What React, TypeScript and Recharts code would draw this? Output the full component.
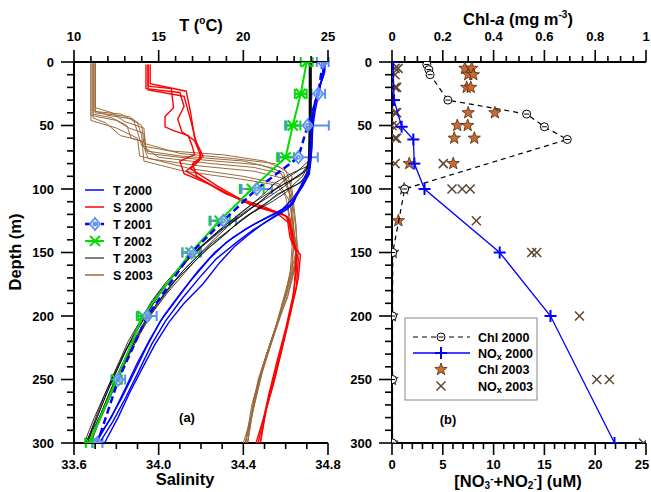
import React from 'react';
import { ScatterChart, Scatter, XAxis, YAxis, ErrorBar } from 'recharts';

type Pt = [number, number]; // [value, depth (m)]

// ---------- panel (a) : salinity 2003 ----------
const s2003a: Pt[] = [[33.69,1],[33.69,38],[33.76,42],[33.88,45],[33.90,55],[33.92,66],[34.05,70],[34.30,73],[34.50,78],[34.60,85],[34.63,100],[34.65,130],[34.65,150],[34.60,180],[34.55,210],[34.49,240],[34.44,270],[34.41,300]];
const s2003b: Pt[] = [[33.68,1],[33.68,42],[33.80,46],[33.86,52],[33.93,56],[33.94,70],[34.10,74],[34.40,78],[34.55,84],[34.62,95],[34.64,120],[34.66,150],[34.62,175],[34.56,205],[34.50,235],[34.45,265],[34.42,300]];
const s2003c: Pt[] = [[33.70,1],[33.70,36],[33.78,40],[33.84,47],[33.93,52],[33.94,68],[34.00,75],[34.25,80],[34.45,83],[34.58,88],[34.62,105],[34.64,140],[34.63,165],[34.58,195],[34.52,225],[34.47,255],[34.43,285],[34.41,300]];
const s2003d: Pt[] = [[33.69,1],[33.69,44],[33.75,48],[33.82,58],[33.92,62],[33.95,76],[34.20,82],[34.45,86],[34.60,92],[34.63,110],[34.64,135],[34.65,155],[34.61,185],[34.54,215],[34.48,248],[34.44,278],[34.40,300]];
const s2003e: Pt[] = [[33.70,1],[33.70,40],[33.86,43],[33.92,50],[33.93,64],[34.10,72],[34.35,76],[34.55,80],[34.63,90],[34.61,115],[34.63,145],[34.62,170],[34.57,200],[34.51,230],[34.46,260],[34.43,290],[34.42,300]];
const s2003f: Pt[] = [[33.68,1],[33.68,46],[33.80,52],[33.90,60],[33.91,74],[34.15,84],[34.40,90],[34.57,96],[34.62,110],[34.65,145],[34.64,160],[34.59,190],[34.53,220],[34.47,250],[34.44,275],[34.41,300]];
const s2003g: Pt[] = [[33.69,1],[33.69,41],[33.78,44],[33.85,50],[33.87,60],[33.93,63],[33.95,72],[34.20,77],[34.48,81],[34.59,87],[34.62,104],[34.63,128],[34.66,152],[34.62,178],[34.56,208],[34.50,238],[34.45,268],[34.42,300]];
const s2003h: Pt[] = [[33.70,1],[33.70,39],[33.82,41],[33.90,48],[33.92,58],[33.93,78],[34.12,86],[34.38,92],[34.56,97],[34.60,106],[34.64,138],[34.63,158],[34.60,182],[34.55,212],[34.49,244],[34.45,272],[34.41,300]];

// ---------- panel (a) : salinity 2000 ----------
const s2000a: Pt[] = [[33.95,2],[33.95,19],[34.06,21],[34.07,36],[34.03,43],[34.03,51],[34.07,54],[34.14,58],[34.16,67],[34.17,73],[34.10,78],[34.12,88],[34.25,97],[34.40,110],[34.55,118],[34.61,126],[34.62,138],[34.65,150],[34.64,180],[34.60,210],[34.56,235],[34.52,262],[34.49,285],[34.47,300]];
const s2000b: Pt[] = [[33.96,2],[33.96,17],[34.13,23],[34.15,39],[34.17,60],[34.20,71],[34.19,78],[34.15,84],[34.28,98],[34.43,112],[34.58,119],[34.62,124],[34.63,140],[34.66,155],[34.65,178],[34.61,205],[34.57,232],[34.53,258],[34.50,280],[34.48,300]];
const s2000c: Pt[] = [[33.94,2],[33.94,21],[34.10,24],[34.12,35],[34.09,45],[34.11,55],[34.17,62],[34.19,70],[34.20,76],[34.13,86],[34.30,102],[34.48,115],[34.60,121],[34.63,132],[34.64,145],[34.67,152],[34.66,170],[34.62,200],[34.58,228],[34.54,255],[34.50,278],[34.46,300]];
const s2000d: Pt[] = [[33.95,2],[33.95,22],[34.02,24],[34.12,27],[34.15,45],[34.18,65],[34.21,74],[34.16,80],[34.18,90],[34.32,104],[34.50,114],[34.61,122],[34.62,130],[34.65,148],[34.65,165],[34.63,190],[34.59,220],[34.55,248],[34.51,272],[34.48,300]];

// ---------- panel (a) : temperature 2003 ----------
const t2003a: Pt[] = [[23.95,0],[23.95,40],[23.9,75],[23.7,85],[23.0,92],[22.2,100],[21.3,108],[20.3,116],[19.4,125],[18.5,135],[17.6,145],[16.8,155],[15.9,168],[15.1,180],[14.3,195],[13.7,210],[13.0,228],[12.4,245],[11.8,262],[11.2,280],[10.6,300]];
const t2003b: Pt[] = [[23.9,0],[23.9,50],[23.85,78],[23.2,86],[22.5,92],[21.9,100],[21.0,110],[20.0,120],[19.2,128],[18.4,138],[17.5,150],[16.6,162],[15.7,176],[14.9,190],[14.2,205],[13.5,222],[12.9,238],[12.3,256],[11.7,274],[11.1,290],[10.8,300]];
const t2003c: Pt[] = [[24.0,0],[24.0,60],[23.9,80],[23.5,90],[23.0,96],[22.5,103],[21.7,110],[20.6,118],[19.7,126],[18.9,136],[18.0,146],[17.2,156],[16.4,168],[15.5,182],[14.6,198],[13.9,214],[13.2,232],[12.6,250],[12.0,268],[11.4,286],[11.0,300]];
const t2003d: Pt[] = [[23.95,0],[23.95,70],[23.8,84],[23.3,90],[22.4,96],[21.5,104],[20.8,112],[19.8,122],[18.7,132],[17.8,142],[16.9,152],[16.1,164],[15.3,178],[14.5,194],[13.8,210],[13.1,226],[12.5,244],[11.9,262],[11.3,282],[10.7,300]];
const t2003e: Pt[] = [[23.9,0],[23.9,65],[23.8,82],[22.8,88],[21.9,95],[21.2,104],[20.5,112],[19.6,122],[18.6,132],[17.7,143],[16.7,156],[15.8,170],[15.0,184],[14.2,200],[13.5,216],[12.9,232],[12.2,252],[11.6,272],[11.0,292],[10.8,300]];
const t2003f: Pt[] = [[24.0,0],[24.0,55],[23.9,78],[23.7,88],[23.4,95],[22.6,100],[21.9,106],[21.0,114],[20.1,122],[19.2,132],[18.2,142],[17.3,153],[16.4,165],[15.6,178],[14.8,192],[14.0,208],[13.3,225],[12.7,242],[12.1,260],[11.5,280],[10.9,300]];
const t2003g: Pt[] = [[23.9,0],[23.9,45],[23.85,80],[23.5,87],[22.7,94],[21.6,102],[20.7,110],[19.9,118],[19.0,128],[18.1,138],[17.1,150],[16.2,162],[15.4,174],[14.6,188],[13.9,204],[13.2,220],[12.6,238],[12.0,256],[11.4,276],[10.9,294],[10.7,300]];
const t2003h: Pt[] = [[24.0,0],[24.0,50],[23.95,82],[23.8,90],[23.1,97],[22.0,104],[21.2,113],[20.4,120],[19.5,129],[18.6,139],[17.7,149],[16.9,160],[16.0,172],[15.2,186],[14.4,201],[13.7,217],[13.1,234],[12.4,252],[11.8,270],[11.2,290],[10.9,300]];

// ---------- panel (a) : temperature 2000 ----------
const t2000a: Pt[] = [[24.85,0],[24.8,8],[24.6,16],[24.45,22],[24.2,32],[24.1,45],[24.05,60],[24.0,75],[23.9,88],[23.5,98],[23.1,106],[22.9,112],[22.1,119],[21.2,127],[20.4,135],[19.5,145],[18.6,158],[17.6,175],[16.5,190],[15.6,205],[14.8,222],[14.0,242],[13.3,260],[12.6,280],[11.8,300]];
const t2000b: Pt[] = [[24.7,0],[24.75,10],[24.45,20],[24.25,32],[24.05,50],[23.95,70],[23.85,85],[23.3,100],[23.0,110],[22.6,116],[21.6,124],[20.6,132],[19.6,142],[18.4,155],[17.4,170],[16.4,186],[15.4,204],[14.6,222],[13.8,244],[13.1,263],[12.3,283],[11.5,300]];
const t2000c: Pt[] = [[24.8,0],[24.7,12],[24.35,25],[24.1,40],[24.0,55],[23.95,72],[23.8,90],[23.2,102],[22.9,108],[22.3,116],[21.3,123],[20.2,131],[19.0,142],[18.0,155],[16.9,172],[16.0,188],[15.1,204],[14.3,224],[13.5,246],[12.8,265],[12.0,284],[11.3,300]];
const t2000d: Pt[] = [[24.75,0],[24.65,12],[24.5,22],[24.25,38],[24.1,52],[24.05,68],[23.95,82],[23.6,95],[23.2,104],[22.8,112],[21.8,120],[20.6,128],[19.4,138],[18.3,150],[17.3,165],[16.3,182],[15.3,200],[14.5,218],[13.7,238],[13.0,258],[12.2,280],[11.2,300]];

// ---------- panel (a) : mean profiles 2001 / 2002 with spread ----------
const meanDepth = [0, 25, 50, 75, 100, 125, 150, 200, 250, 300];
const t2001Mean = [24.69, 24.43, 23.80, 23.25, 20.79, 18.82, 16.95, 14.33, 12.62, 11.38];
const t2001Err = [0.35, 0.4, 1.25, 1.15, 0.9, 0.75, 0.55, 0.55, 0.4, 0.3];
const t2002Mean = [23.74, 23.39, 22.92, 22.5, 20.5, 18.6, 16.9, 14.06, 12.52, 10.9];
const t2002Err = [0.35, 0.35, 0.45, 0.5, 0.7, 0.6, 0.5, 0.35, 0.3, 0.2];

// ---------- panel (b) ----------
const chl2000Depth = [2, 6, 10, 30, 41, 51, 61, 100, 150, 200, 250, 300];
const chl2000 = [0.137, 0.145, 0.15, 0.22, 0.53, 0.60, 0.69, 0.05, 0.003, 0.002, 0.002, 0.002];
const nox2000Depth = [0, 30, 51, 61, 80, 100, 150, 200, 300];
const nox2000 = [0.1, 0.2, 0.95, 2.1, 2.2, 3.2, 10.6, 15.6, 21.9];
const chl2003: Pt[] = [[0.287,5],[0.314,5],[0.30,10],[0.32,10],[0.294,20],[0.31,20],[0.30,40],[0.405,40],[0.257,50],[0.298,50],[0.245,60],[0.324,60],[0.068,80],[0.241,80],[0.048,100],[0.025,125],[0.003,150],[0.0,200],[0.0,250],[0.0,300]];
const nox2003: Pt[] = [[0.3,5],[0.6,5],[0.3,10],[0.3,20],[0.45,20],[0.3,40],[0.45,40],[0.0,50],[0.45,50],[0.3,60],[0.45,60],[0.3,80],[5.05,80],[5.9,100],[6.9,100],[7.7,100],[8.3,125],[13.75,150],[14.25,150],[18.45,200],[20.15,250],[21.4,250],[24.75,300]];

// ---------- ticks ----------
const tTicks = [10, 11, 12, 13, 14, 15, 16, 17, 18, 19, 20, 21, 22, 23, 24, 25];
const tLabels = [10, 15, 20, 25];
const sTicks = [33.6, 33.7, 33.8, 33.9, 34.0, 34.1, 34.2, 34.3, 34.4, 34.5, 34.6, 34.7, 34.8];
const sLabels = [33.6, 34.0, 34.4, 34.8];
const depthTicks = Array.from({ length: 31 }, (_, i) => i * 10);
const depthLabels = [0, 50, 100, 150, 200, 250, 300];
const chlTicks = Array.from({ length: 21 }, (_, i) => Math.round(i * 5) / 100);
const chlLabels = [0, 0.2, 0.4, 0.6, 0.8, 1];
const noxTicks = Array.from({ length: 26 }, (_, i) => i);
const noxLabels = [0, 5, 10, 15, 20, 25];

const FONT = '"Liberation Sans", Arial, Helvetica, sans-serif';
const BLUE = '#0000ff';
const RED = '#ff0000';
const BROWN = '#9a6a3c';
const GREEN = '#00dd00';
const LBLUE = '#5b8ff0';
const STAR = '#cf6a2c';
const XBROWN = '#5e4632';
const AXIS = { stroke: '#000', strokeWidth: 2 };

const prof = (pts: Pt[]) => pts.map(([x, d]) => ({ x, d }));
const zipped = (xs: number[], ds: number[], es?: number[]) =>
  xs.map((x, i) => ({ x, d: ds[i], e: es ? es[i] : 0 }));

const isIn = (arr: number[], v: number) => arr.some((m) => Math.abs(m - v) < 1e-6);

// custom ticks: long labelled major ticks, short minor ticks; maxX keeps the last label inside the svg
function axisTick(orient: 'top' | 'bottom' | 'left', labels: number[], fmt: (v: number) => string, maxX = 9999) {
  return (props: any) => {
    const { x, y, payload } = props;
    const v = Number(payload.value);
    const major = isIn(labels, v);
    const txt = { fontFamily: FONT, fontSize: 13, fontWeight: 700, fill: '#000' };
    if (orient === 'left') {
      const len = major ? 13 : 7;
      return (
        <g>
          <line x1={x - len} y1={y} x2={x} y2={y} stroke="#000" strokeWidth={1.6} />
          {major && <text x={x - 20} y={y + 4.7} textAnchor="end" {...txt}>{fmt(v)}</text>}
        </g>
      );
    }
    const len = major ? 12 : 6;
    const dir = orient === 'top' ? -1 : 1;
    return (
      <g>
        <line x1={x} y1={y} x2={x} y2={y + dir * len} stroke="#000" strokeWidth={1.6} />
        {major && (
          <text x={Math.min(x, maxX)} y={orient === 'top' ? y - 21.3 : y + 26} textAnchor="middle" {...txt}>{fmt(v)}</text>
        )}
      </g>
    );
  };
}

// ---------- markers ----------
const noDot = () => <g />;
const diamondMark = (cx: number, cy: number) => (
  <g>
    <polygon points={`${cx},${cy - 6} ${cx + 5},${cy} ${cx},${cy + 6} ${cx - 5},${cy}`} fill="#fff" fillOpacity={0.5} stroke={LBLUE} strokeWidth={1.8} />
    <circle cx={cx} cy={cy} r={1.8} fill="none" stroke={LBLUE} strokeWidth={1.2} />
  </g>
);
const asterMark = (cx: number, cy: number) => (
  <g stroke={GREEN} strokeWidth={2}>
    <line x1={cx - 5} y1={cy - 5} x2={cx + 5} y2={cy + 5} />
    <line x1={cx - 5} y1={cy + 5} x2={cx + 5} y2={cy - 5} />
    <line x1={cx - 6} y1={cy} x2={cx + 6} y2={cy} />
  </g>
);
const starPath = (cx: number, cy: number) => {
  let d = '';
  for (let i = 0; i < 10; i++) {
    const r = i % 2 === 0 ? 6.5 : 2.7;
    const a = -Math.PI / 2 + (i * Math.PI) / 5;
    d += (i ? 'L' : 'M') + (cx + r * Math.cos(a)).toFixed(2) + ',' + (cy + r * Math.sin(a)).toFixed(2);
  }
  return d + 'Z';
};
const starMark = (cx: number, cy: number) => <path d={starPath(cx, cy)} fill={STAR} stroke="#4a2c16" strokeWidth={0.8} />;
const xMark = (cx: number, cy: number) => (
  <g stroke={XBROWN} strokeWidth={1.5}>
    <line x1={cx - 4.5} y1={cy - 4.5} x2={cx + 4.5} y2={cy + 4.5} />
    <line x1={cx - 4.5} y1={cy + 4.5} x2={cx + 4.5} y2={cy - 4.5} />
  </g>
);
const plusMark = (cx: number, cy: number) => (
  <g stroke={BLUE} strokeWidth={2}>
    <line x1={cx - 6} y1={cy} x2={cx + 6} y2={cy} />
    <line x1={cx} y1={cy - 6} x2={cx} y2={cy + 6} />
  </g>
);
const thetaMark = (cx: number, cy: number) => (
  <g>
    <circle cx={cx} cy={cy} r={4} fill="#fff" stroke="#000" strokeWidth={1} />
    <line x1={cx - 2.5} y1={cy} x2={cx + 2.5} y2={cy} stroke="#000" strokeWidth={1} />
  </g>
);

const shapeOf = (m: (cx: number, cy: number) => React.ReactNode) => (p: any) => <g>{m(p.cx, p.cy)}</g>;

const lineSeries = (list: Pt[][], axis: string, stroke: string, w: number, tag: string) =>
  list.map((p, i) => (
    <Scatter
      key={tag + i}
      xAxisId={axis}
      yAxisId="d"
      data={prof(p)}
      line={{ stroke, strokeWidth: w }}
      shape={noDot}
      isAnimationActive={false}
    />
  ));

const title = { fontFamily: FONT, fontSize: 16.5, fontWeight: 700, fill: '#000' };
const leg = { fontFamily: FONT, fontSize: 12.5, fontWeight: 700, fill: '#000' };

export default function App() {
  const leftLegend: [string, React.ReactNode][] = [
    ['T 2000', <line x1={85} x2={104} y1={0} y2={0} stroke={BLUE} strokeWidth={1.5} />],
    ['S 2000', <line x1={85} x2={104} y1={0} y2={0} stroke={RED} strokeWidth={1.5} />],
    ['T 2001', <g><line x1={85} x2={104} y1={0} y2={0} stroke={BLUE} strokeWidth={2.5} strokeDasharray="5 3" />{diamondMark(95, 0)}</g>],
    ['T 2002', <g><line x1={85} x2={104} y1={0} y2={0} stroke={GREEN} strokeWidth={2} />{asterMark(95, 0)}</g>],
    ['T 2003', <line x1={85} x2={104} y1={0} y2={0} stroke="#000" strokeWidth={1} />],
    ['S 2003', <line x1={85} x2={104} y1={0} y2={0} stroke={BROWN} strokeWidth={1.5} />],
  ];
  const leftLegendY = [190, 207, 224, 241, 258, 275];

  return (
    <div style={{ position: 'absolute', left: 0, top: 0, width: 651, height: 492, background: '#fff', overflow: 'hidden' }}>
      <div style={{ position: 'absolute', left: 0, top: 0 }}>
        <ScatterChart width={345} height={492} margin={{ top: 0, right: 17, bottom: 0, left: 0 }}>
          <XAxis xAxisId="t" type="number" dataKey="x" orientation="top" domain={[10, 25]} allowDataOverflow ticks={tTicks} interval={0} height={62} tickSize={0} tickMargin={0} tickLine={false} axisLine={AXIS} tick={axisTick('top', tLabels, (v) => String(v))} />
          <XAxis xAxisId="s" type="number" dataKey="x" orientation="bottom" domain={[33.6, 34.8]} allowDataOverflow ticks={sTicks} interval={0} height={49} tickSize={0} tickMargin={0} tickLine={false} axisLine={AXIS} tick={axisTick('bottom', sLabels, (v) => v.toFixed(1))} />
          <YAxis yAxisId="d" type="number" dataKey="d" domain={[0, 300]} reversed allowDataOverflow ticks={depthTicks} interval={0} width={74} tickSize={0} tickMargin={0} tickLine={false} axisLine={AXIS} tick={axisTick('left', depthLabels, (v) => String(v))} />
          {lineSeries([s2003a, s2003b, s2003c, s2003d, s2003e, s2003f, s2003g, s2003h], 's', BROWN, 1, 'b')}
          {lineSeries([s2000a, s2000b, s2000c, s2000d], 's', RED, 1.4, 'r')}
          {lineSeries([t2003a, t2003b, t2003c, t2003d, t2003e, t2003f, t2003g, t2003h], 't', '#000', 0.8, 'k')}
          {lineSeries([t2000a, t2000b, t2000c, t2000d], 't', BLUE, 1.4, 'u')}
          <Scatter xAxisId="t" yAxisId="d" data={zipped(t2002Mean, meanDepth, t2002Err)} line={{ stroke: GREEN, strokeWidth: 2 }} shape={shapeOf(asterMark)} isAnimationActive={false}>
            <ErrorBar dataKey="e" direction="x" width={5} stroke={GREEN} strokeWidth={2} />
          </Scatter>
          <Scatter xAxisId="t" yAxisId="d" data={zipped(t2001Mean, meanDepth, t2001Err)} line={{ stroke: BLUE, strokeWidth: 2.5, strokeDasharray: '7 4' }} shape={shapeOf(diamondMark)} isAnimationActive={false}>
            <ErrorBar dataKey="e" direction="x" width={5} stroke={LBLUE} strokeWidth={2} />
          </Scatter>
        </ScatterChart>
      </div>

      <div style={{ position: 'absolute', left: 345, top: 0 }}>
        <ScatterChart width={306} height={492} margin={{ top: 0, right: 5, bottom: 0, left: 0 }}>
          <XAxis xAxisId="c" type="number" dataKey="x" orientation="top" domain={[0, 1]} allowDataOverflow ticks={chlTicks} interval={0} height={62} tickSize={0} tickMargin={0} tickLine={false} axisLine={AXIS} tick={axisTick('top', chlLabels, (v) => String(v))} />
          <XAxis xAxisId="n" type="number" dataKey="x" orientation="bottom" domain={[0, 25]} allowDataOverflow ticks={noxTicks} interval={0} height={49} tickSize={0} tickMargin={0} tickLine={false} axisLine={AXIS} tick={axisTick('bottom', noxLabels, (v) => String(v), 297)} />
          <YAxis yAxisId="d" type="number" dataKey="d" domain={[0, 300]} reversed allowDataOverflow ticks={depthTicks} interval={0} width={47} tickSize={0} tickMargin={0} tickLine={false} axisLine={AXIS} tick={axisTick('left', depthLabels, (v) => String(v))} />
          <Scatter xAxisId="n" yAxisId="d" data={prof(nox2003)} shape={shapeOf(xMark)} isAnimationActive={false} />
          <Scatter xAxisId="c" yAxisId="d" data={prof(chl2003)} shape={shapeOf(starMark)} isAnimationActive={false} />
          <Scatter xAxisId="n" yAxisId="d" data={zipped(nox2000, nox2000Depth)} line={{ stroke: BLUE, strokeWidth: 1.3 }} shape={shapeOf(plusMark)} isAnimationActive={false} />
          <Scatter xAxisId="c" yAxisId="d" data={zipped(chl2000, chl2000Depth)} line={{ stroke: '#000', strokeWidth: 1.2, strokeDasharray: '5 4' }} shape={shapeOf(thetaMark)} isAnimationActive={false} />
        </ScatterChart>
      </div>

      <svg width={651} height={492} style={{ position: 'absolute', left: 0, top: 0, pointerEvents: 'none' }}>
        <text x={201} y={31} textAnchor="middle" {...title}>
          T (<tspan fontSize={10} dy={-7}>o</tspan><tspan dy={7}>C)</tspan>
        </text>
        <text x={518} y={25} textAnchor="middle" {...title}>
          Chl-<tspan fontStyle="italic">a</tspan> (mg m<tspan fontSize={10} dy={-7}>-3</tspan><tspan dy={7}>)</tspan>
        </text>
        <text x={185} y={485} textAnchor="middle" {...title}>Salinity</text>
        <text x={518} y={487} textAnchor="middle" {...title}>
          [NO<tspan fontSize={10} dy={2}>3</tspan><tspan fontSize={10} dy={-7}>-</tspan><tspan dy={5}>+NO</tspan><tspan fontSize={10} dy={2}>2</tspan><tspan fontSize={10} dy={-7}>-</tspan><tspan dy={5}>] (uM)</tspan>
        </text>
        <text transform="translate(21,252) rotate(-90)" textAnchor="middle" {...title}>Depth (m)</text>
        <text x={187} y={422} textAnchor="middle" {...leg} fontSize={13}>(a)</text>
        <text x={448} y={424} textAnchor="middle" {...leg} fontSize={13}>(b)</text>

        {leftLegend.map(([label, sample], i) => (
          <g key={label}>
            <g transform={`translate(0,${leftLegendY[i]})`}>{sample}</g>
            <text x={113} y={leftLegendY[i] + 4.5} {...leg}>{label}</text>
          </g>
        ))}

        <rect x={405} y={318} width={132} height={82} fill="#fff" stroke="#888" strokeWidth={1} />
        <line x1={413} x2={470} y1={337} y2={337} stroke="#000" strokeWidth={1.2} strokeDasharray="5 4" />
        {thetaMark(441, 337)}
        <text x={478} y={341.5} {...leg}>Chl 2000</text>
        <line x1={413} x2={470} y1={353} y2={353} stroke={BLUE} strokeWidth={1.3} />
        {plusMark(441, 353)}
        <text x={478} y={357.5} {...leg}>NO<tspan fontSize={9} dy={2}>x</tspan><tspan dy={-2}> 2000</tspan></text>
        {starMark(441, 369.5)}
        <text x={478} y={374} {...leg}>Chl 2003</text>
        {xMark(441, 386)}
        <text x={478} y={390.5} {...leg}>NO<tspan fontSize={9} dy={2}>x</tspan><tspan dy={-2}> 2003</tspan></text>
      </svg>
    </div>
  );
}
